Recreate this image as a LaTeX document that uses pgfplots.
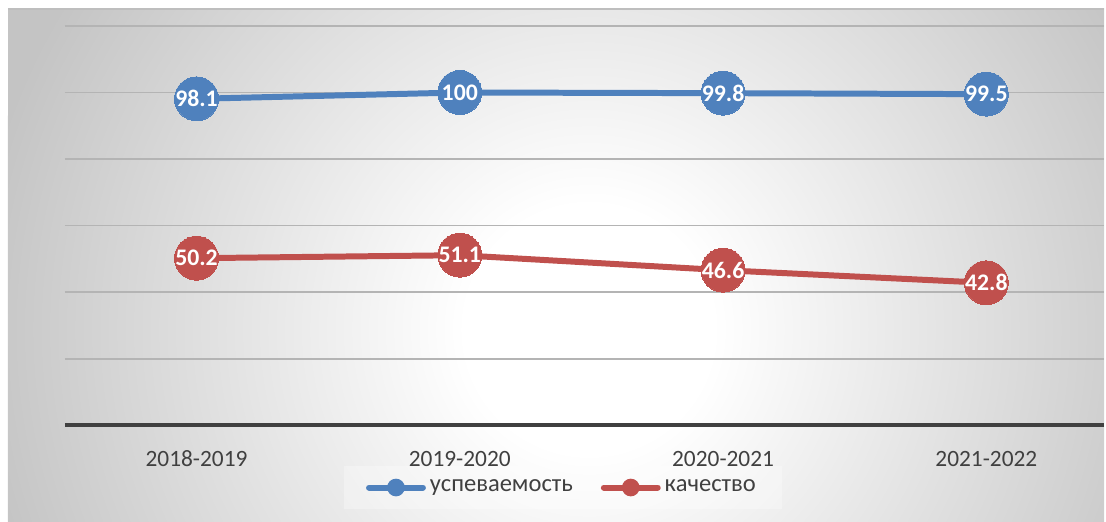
\documentclass[border=0pt]{standalone}
\usepackage{pgfplots}
\pgfplotsset{compat=1.18}
\usepackage{fontspec}
\setmainfont{Carlito}
\definecolor{blueS}{HTML}{4F81BD}
\definecolor{redS}{HTML}{C0504D}
\definecolor{tickgray}{HTML}{404040}
\definecolor{gridgray}{HTML}{B4B4B4}
\definecolor{edgegray}{HTML}{C4C4C4}
\definecolor{bordergray}{HTML}{BEBEBE}

\pgfdeclareradialshading{bgshade}{\pgfpoint{0bp}{0bp}}{%
  color(0bp)=(white); color(5bp)=(white);
  color(25bp)=(edgegray); color(50bp)=(edgegray)}

\pgfplotstableread{
x y label
0 98.1 98.1
1 100  100
2 99.8 99.8
3 99.5 99.5
}\uspev
\pgfplotstableread{
x y label
0 50.2 50.2
1 51.1 51.1
2 46.6 46.6
3 42.8 42.8
}\kach

\begin{document}
\begin{tikzpicture}
% background, in pixel units of the reference
\begin{scope}[x=0.5pt,y=-0.5pt]
  \useasboundingbox (0,0) rectangle (1106,522);
  \begin{scope}
    \clip (8,9) rectangle (1106,522);
    \fill[edgegray] (8,9) rectangle (1106,522);
    \shade[shading=bgshade] (590,330) circle (620);
  \end{scope}
  \draw[bordergray, line width=1pt] (8,9) -- (1106,9);
\end{scope}

\begin{axis}[
  at={(32.5pt,-213pt)}, anchor=south west,
  scale only axis, width=520.5pt, height=200pt,
  xmin=-0.5, xmax=3.447, ymin=0, ymax=120,
  xtick={0,1,2,3},
  xticklabels={2018-2019,2019-2020,2020-2021,2021-2022},
  ytick={20,40,...,120}, yticklabels={},
  extra y ticks={0}, extra y tick labels={},
  extra y tick style={grid style={tickgray, line width=2pt}},
  ymajorgrids, grid style={gridgray, line width=0.9pt},
  axis line style={draw=none},
  major tick length=0pt,
  xticklabel style={anchor=base, yshift=-20.5pt, font=\fontsize{11.7}{14}\selectfont, text=tickgray},
  clip=false,
  nodes near coords, point meta=explicit symbolic,
  every node near coord/.append style={anchor=center, text=white, inner sep=0pt,
    font=\bfseries\fontsize{11.9}{14}\selectfont},
  legend columns=2,
  legend style={at={(rel axis cs:0.4793,-0.156)}, anchor=center, draw=none,
    fill=white, fill opacity=0.3, text opacity=1,
    font=\fontsize{12.3}{14}\selectfont, text=tickgray,
    inner xsep=11pt, inner ysep=5pt,
    /tikz/every even column/.append style={column sep=12pt}},
  legend image code/.code={
    \draw[#1, mark=none, line width=3pt, line cap=round, draw opacity=1] (0pt,0pt) -- (27pt,0pt);
    \fill[#1, mark=none, fill opacity=1] (13.5pt,0pt) circle (2.9pt);
  },
]
\addplot[blueS, line width=3pt, mark=*, mark size=11pt,
  mark options={fill=blueS, draw=blueS, line width=0pt}]
  table[x=x, y=y, meta=label] {\uspev};
\addplot[redS, line width=3pt, mark=*, mark size=11pt,
  mark options={fill=redS, draw=redS, line width=0pt}]
  table[x=x, y=y, meta=label] {\kach};
\legend{успеваемость, качество}
\end{axis}
\end{tikzpicture}
\end{document}
